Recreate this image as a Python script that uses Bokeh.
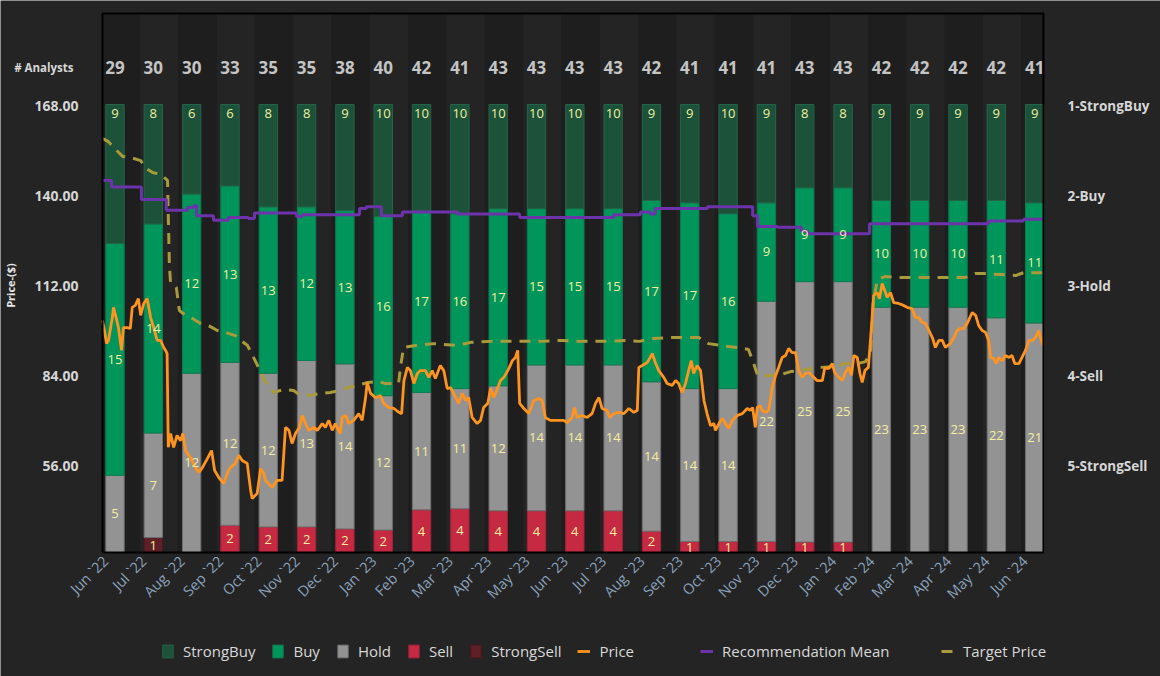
import math
from bokeh.plotting import figure
from bokeh.models import (Range1d, LinearAxis, FixedTicker, Legend, LegendItem,
                          NumeralTickFormatter)
from bokeh.core.properties import value
from bokeh.embed import file_html
from bokeh.resources import INLINE

# ---------------- data ----------------
months = ["Jun `22", "Jul `22", "Aug `22", "Sep `22", "Oct `22", "Nov `22", "Dec `22",
          "Jan `23", "Feb `23", "Mar `23", "Apr `23", "May `23", "Jun `23", "Jul `23",
          "Aug `23", "Sep `23", "Oct `23", "Nov `23", "Dec `23", "Jan `24", "Feb `24",
          "Mar `24", "Apr `24", "May `24", "Jun `24"]
analysts = [29, 30, 30, 33, 35, 35, 38, 40, 42, 41, 43, 43, 43, 43, 42, 41, 41, 41, 43, 43, 42, 42, 42, 42, 41]
strong_buy = [9, 8, 6, 6, 8, 8, 9, 10, 10, 10, 10, 10, 10, 10, 9, 9, 10, 9, 8, 8, 9, 9, 9, 9, 9]
buy = [15, 14, 12, 13, 13, 12, 13, 16, 17, 16, 17, 15, 15, 15, 17, 17, 16, 9, 9, 9, 10, 10, 10, 11, 11]
hold = [5, 7, 12, 12, 12, 13, 14, 12, 11, 11, 12, 14, 14, 14, 14, 14, 14, 22, 25, 25, 23, 23, 23, 22, 21]
sell = [0, 0, 0, 2, 2, 2, 2, 2, 4, 4, 4, 4, 4, 4, 2, 1, 1, 1, 1, 1, 0, 0, 0, 0, 0]
strong_sell = [0, 1, 0, 0, 0, 0, 0, 0, 0, 0, 0, 0, 0, 0, 0, 0, 0, 0, 0, 0, 0, 0, 0, 0, 0]

# time in months since Jun 2022 (bar positions are month starts)
price_month = [-0.33, -0.29, -0.22, -0.17, -0.07, -0.04, 0.03, 0.09, 0.17, 0.22,
               0.32, 0.40, 0.45, 0.53, 0.61, 0.67, 0.75, 0.84, 0.93, 1.01,
               1.10, 1.19, 1.27, 1.32, 1.36, 1.39, 1.45, 1.53, 1.62, 1.71,
               1.77, 1.84, 1.97, 2.10, 2.19, 2.28, 2.41, 2.52, 2.60, 2.71,
               2.84, 2.93, 3.01, 3.14, 3.23, 3.32, 3.45, 3.54, 3.58, 3.71,
               3.80, 3.88, 3.93, 4.01, 4.10, 4.23, 4.36, 4.45, 4.54, 4.62,
               4.71, 4.81, 4.89, 4.97, 5.06, 5.19, 5.28, 5.41, 5.49, 5.58,
               5.67, 5.75, 5.88, 5.93, 6.02, 6.10, 6.23, 6.36, 6.45, 6.54,
               6.58, 6.67, 6.80, 6.93, 7.01, 7.15, 7.28, 7.41, 7.48, 7.54,
               7.63, 7.71, 7.80, 7.89, 7.97, 8.10, 8.19, 8.28, 8.36, 8.49,
               8.58, 8.67, 8.76, 8.89, 8.97, 9.06, 9.15, 9.23, 9.32, 9.45,
               9.54, 9.62, 9.73, 9.80, 9.89, 9.99, 10.06, 10.15, 10.28, 10.37,
               10.45, 10.51, 10.56, 10.67, 10.80, 10.93, 11.06, 11.15, 11.23, 11.36,
               11.54, 11.71, 11.80, 11.93, 11.99, 12.06, 12.19, 12.32, 12.45, 12.54,
               12.63, 12.71, 12.84, 12.91, 13.02, 13.15, 13.28, 13.41, 13.54, 13.63,
               13.67, 13.76, 13.89, 14.02, 14.11, 14.19, 14.32, 14.41, 14.54, 14.63,
               14.71, 14.80, 14.89, 14.97, 15.04, 15.10, 15.19, 15.28, 15.37, 15.45,
               15.54, 15.63, 15.67, 15.76, 15.85, 15.93, 16.02, 16.11, 16.24, 16.37,
               16.50, 16.58, 16.64, 16.71, 16.76, 16.84, 16.89, 16.98, 17.06, 17.15,
               17.24, 17.32, 17.41, 17.50, 17.58, 17.67, 17.76, 17.84, 17.93, 18.02,
               18.11, 18.19, 18.32, 18.46, 18.52, 18.63, 18.72, 18.78, 18.89, 18.98,
               19.06, 19.15, 19.22, 19.28, 19.37, 19.44, 19.50, 19.57, 19.66, 19.72,
               19.80, 19.89, 19.95, 20.02, 20.09, 20.15, 20.24, 20.32, 20.45, 20.58,
               20.67, 20.80, 20.89, 20.98, 21.06, 21.15, 21.24, 21.33, 21.41, 21.50,
               21.59, 21.67, 21.80, 21.89, 21.98, 22.06, 22.15, 22.24, 22.37, 22.46,
               22.54, 22.63, 22.72, 22.80, 22.85, 22.93, 23.00, 23.06, 23.15, 23.24,
               23.32, 23.41, 23.48, 23.59, 23.67, 23.76, 23.85, 23.94, 24.02, 24.11,
               24.15, 24.22]
price = [101.2, 99.0, 94.0, 95.0, 102.1, 105.3, 102.1, 99.0, 91.9, 99.0,
         99.0, 98.7, 105.3, 105.9, 108.0, 102.8, 106.5, 108.0, 102.1, 99.0,
         95.0, 95.0, 92.8, 91.9, 90.9, 61.7, 66.0, 61.7, 65.4, 63.8,
         66.0, 60.7, 58.5, 55.4, 53.9, 55.4, 58.2, 60.7, 54.5, 52.3,
         50.4, 53.6, 55.4, 56.7, 59.2, 57.6, 56.7, 48.3, 45.8, 47.3,
         55.1, 53.6, 51.4, 50.4, 49.2, 51.4, 51.4, 67.9, 67.0, 62.9,
         66.0, 67.9, 71.6, 69.1, 67.0, 67.9, 67.0, 69.1, 67.9, 70.1,
         67.0, 69.1, 66.0, 71.0, 71.6, 69.1, 70.1, 72.2, 70.1, 77.2,
         81.9, 78.5, 77.2, 77.8, 75.4, 74.1, 73.8, 72.6, 72.2, 82.5,
         86.6, 85.6, 81.6, 84.7, 85.6, 85.6, 83.5, 85.6, 83.1, 87.2,
         85.6, 80.0, 80.3, 77.2, 75.4, 78.5, 76.3, 77.2, 71.0, 69.1,
         70.1, 74.1, 75.4, 80.0, 77.2, 80.3, 82.5, 83.5, 86.3, 88.7,
         89.7, 91.9, 75.4, 73.8, 72.2, 76.3, 76.9, 76.3, 71.0, 70.1,
         70.1, 70.1, 69.4, 71.0, 74.1, 71.0, 71.6, 71.0, 72.2, 75.4,
         77.2, 73.8, 73.2, 71.0, 72.2, 72.6, 72.2, 73.8, 72.6, 73.2,
         86.6, 87.2, 88.1, 90.9, 87.8, 85.6, 83.5, 81.6, 81.0, 82.5,
         81.6, 78.8, 81.6, 85.6, 88.7, 84.7, 87.2, 85.6, 76.3, 72.2,
         68.5, 69.1, 67.0, 69.1, 70.7, 69.1, 67.6, 70.1, 71.6, 72.2,
         73.8, 73.2, 74.1, 67.9, 74.1, 74.7, 73.2, 72.6, 73.2, 80.3,
         84.1, 86.6, 89.7, 90.3, 92.5, 91.2, 91.2, 85.6, 83.5, 84.7,
         85.0, 84.1, 82.5, 82.5, 86.3, 86.3, 87.8, 85.0, 83.5, 82.5,
         85.0, 86.6, 84.1, 90.3, 89.7, 84.7, 81.9, 85.6, 86.6, 95.9,
         109.0, 109.9, 108.0, 112.7, 110.5, 108.4, 109.9, 106.8, 106.5, 105.9,
         105.3, 104.9, 102.1, 102.1, 100.6, 100.3, 98.1, 95.9, 92.8, 95.0,
         95.0, 92.8, 94.0, 95.9, 98.1, 98.7, 98.7, 100.3, 103.7, 102.8,
         99.6, 98.1, 97.5, 95.0, 89.7, 89.4, 87.8, 89.7, 88.7, 90.3,
         89.7, 90.3, 87.8, 87.8, 89.7, 91.9, 95.0, 95.0, 95.9, 98.1,
         95.9, 93.4]

target_month = [-0.33, -0.17, -0.01, 0.20, 0.40, 0.67, 0.82, 0.98, 1.19, 1.37,
                1.42, 1.45, 1.60, 1.68, 1.84, 2.02, 2.23, 2.49, 2.67, 2.96,
                3.14, 3.28, 3.46, 3.59, 3.72, 3.85, 3.98, 4.14, 4.40, 4.66,
                4.84, 5.10, 5.36, 5.62, 5.88, 6.07, 6.35, 6.59, 6.85, 7.06,
                7.40, 7.45, 7.53, 7.84, 8.31, 8.94, 9.28, 9.80, 10.53, 11.10,
                11.63, 12.15, 12.83, 13.32, 13.69, 14.03, 14.50, 15.23, 15.49, 15.83,
                16.22, 16.53, 16.66, 16.77, 17.11, 17.32, 17.63, 17.84, 18.15, 18.41,
                18.80, 19.07, 19.38, 19.59, 19.72, 19.79, 19.90, 20.11, 20.50, 21.15,
                21.80, 22.19, 22.45, 22.71, 23.11, 23.50, 23.71, 24.22]
target = [157.9, 156.9, 154.8, 152.3, 152.0, 151.0, 148.5, 147.3, 146.7, 144.8,
          118.3, 113.0, 111.5, 104.3, 102.8, 101.8, 100.3, 99.3, 98.1, 97.2,
          96.5, 95.0, 93.4, 90.3, 87.2, 83.8, 81.0, 78.8, 79.7, 79.4,
          77.9, 77.9, 78.5, 78.8, 79.4, 80.3, 81.0, 81.9, 82.2, 81.6,
          81.6, 86.6, 92.8, 93.4, 94.0, 93.4, 94.4, 94.7, 94.7, 94.7,
          95.0, 94.7, 94.7, 95.0, 94.7, 95.6, 95.9, 95.9, 94.0, 93.4,
          92.8, 92.2, 88.1, 84.1, 84.1, 84.1, 85.3, 85.6, 86.2, 86.6,
          86.9, 87.8, 87.8, 88.4, 91.9, 107.4, 114.0, 114.9, 114.6, 114.6,
          114.6, 114.6, 115.8, 115.8, 115.5, 115.2, 116.1, 116.1]

rec_month = [-0.32, -0.09, 0.69, 1.34, 1.89, 2.05, 2.13, 2.57, 2.96, 3.48,
             3.64, 4.74, 4.89, 6.38, 6.56, 6.95, 7.50, 8.94, 10.56, 13.01,
             13.71, 13.97, 14.10, 15.46, 16.64, 16.77, 17.29, 17.91, 18.07, 19.69,
             22.80, 23.71, 24.22]
rec_mean = [1.83, 1.90, 2.04, 2.16, 2.13, 2.11, 2.22, 2.27, 2.24, 2.25,
            2.19, 2.23, 2.21, 2.14, 2.12, 2.22, 2.18, 2.20, 2.24, 2.21,
            2.18, 2.20, 2.14, 2.12, 2.22, 2.34, 2.35, 2.39, 2.42, 2.31,
            2.28, 2.26, 2.26]

rec_ticks = [1, 2, 3, 4, 5]
rec_labels = ["1-StrongBuy", "2-Buy", "3-Hold", "4-Sell", "5-StrongSell"]
price_ticks = [56, 84, 112, 140, 168]

# ---------------- layout (data-space extents of the plot area) ----------------
X_LO, X_HI = -0.326, 24.23          # plot area left / right (months)
PRICE_LO = 28.96                    # price at plot-area bottom
BAR_TOP = 1.2031                    # plot-area top on the normalised bar scale
LABEL_SHIFT = 0.25                  # month labels sit a little left of the bars

FONT = "Open Sans"
BG_OUT = "#242424"
PLOT_BG = "#1f1f1f"
BAND_A = "#1e1e1e"
BAND_B = "#242424"
C_SB, C_B, C_H, C_S, C_SS = "#1b5239", "#00955a", "#939393", "#c52a42", "#5e1f27"
L_SB, L_B, L_H, L_S, L_SS = "#24654a", "#0c7d52", "#6e6e6e", "#a3223a", "#4a171e"
LBL = "#f3eea0"

p = figure(width=1160, height=676,
           x_range=Range1d(-2.988, 27.284), y_range=Range1d(-9.66, 200.85),
           output_backend="svg", toolbar_location=None,
           x_axis_location=None, y_axis_location=None,
           min_border=0, background_fill_color=BG_OUT, border_fill_color=BG_OUT,
           outline_line_color=None)
p.extra_y_ranges = {"bars": Range1d(-0.2768, 1.2321), "rec": Range1d(7.345, -0.1732)}
p.grid.visible = False

n = len(months)
xs = list(range(n))

# plot area
p.quad(left=[X_LO], right=[X_HI], bottom=[0], top=[BAR_TOP], y_range_name="bars",
       fill_color=PLOT_BG, line_color=None)
# alternating month bands
p.quad(left=[max(i - 0.347, X_LO) for i in xs], right=[min(i + 0.653, X_HI) for i in xs],
       bottom=0, top=BAR_TOP, y_range_name="bars",
       fill_color=[BAND_A if i % 2 == 0 else BAND_B for i in xs], line_color=None)

# stacked (normalised) bars
series = [("StrongSell", strong_sell, C_SS, L_SS), ("Sell", sell, C_S, L_S),
          ("Hold", hold, C_H, L_H), ("Buy", buy, C_B, L_B), ("StrongBuy", strong_buy, C_SB, L_SB)]
cum = [0.0] * n
bar_renderers = {}
lab_x, lab_y, lab_t = [], [], []
for name, vals, fc, lc in series:
    bx, bb, bt = [], [], []
    for i in xs:
        frac = vals[i] / analysts[i]
        if vals[i] > 0:
            bx.append(i)
            bb.append(cum[i])
            bt.append(cum[i] + frac)
            lab_x.append(i)
            lab_y.append(0.98 if name == "StrongBuy" else cum[i] + frac / 2)
            lab_t.append(str(vals[i]))
        cum[i] += frac
    r = p.vbar(x=bx, bottom=bb, top=bt, width=0.48, y_range_name="bars",
               fill_color=fc, line_color=lc, line_width=1)
    bar_renderers[name] = r

# lines
r_target = p.line(target_month, target, line_color="#a99a3b", line_width=3, line_dash="11 8")
r_rec = p.step(rec_month, rec_mean, mode="after", y_range_name="rec",
               line_color="#6c33ab", line_width=3)
r_price = p.line(price_month, price, line_color="#ff9421", line_width=2.8)

# plot-area border
p.quad(left=[X_LO], right=[X_HI], bottom=[0], top=[BAR_TOP], y_range_name="bars",
       fill_color=None, line_color="#000000", line_width=2)

# bar value labels
p.text(x=lab_x, y=lab_y, text=lab_t, y_range_name="bars", text_align="center",
       text_baseline="middle", text_color=LBL, text_font_size="13px", text_font=value(FONT))

# analyst counts
p.text(x=xs, y=[1.0826] * n, text=[str(a) for a in analysts], y_range_name="bars",
       text_align="center", text_baseline="middle", text_color="#c4c4c4",
       text_font_size="17px", text_font_style="bold", text_font=value(FONT))
p.text(x=[-1.083], y=[1.0826], text=["# Analysts"], y_range_name="bars",
       text_align="right", text_baseline="middle", text_color="#d6d6d6",
       text_font_size="11.5px", text_font_style="bold", text_font=value(FONT))
p.text(x=[-2.73], y=[112.1], text=["Price-($)"], angle=math.pi / 2,
       text_align="center", text_baseline="middle", text_color="#e6e6e6",
       text_font_size="11px", text_font_style="bold", text_font=value(FONT))

# axes (fixed at the plot-area edges)
tick_pos = [i - LABEL_SHIFT for i in xs]
xa = LinearAxis(fixed_location=PRICE_LO, ticker=FixedTicker(ticks=tick_pos))
xa.major_label_overrides = {t: months[i] for i, t in enumerate(tick_pos)}
xa.major_label_orientation = math.pi / 4
xa.major_label_text_color = "#8aa1ba"
xa.major_label_text_font = FONT
xa.major_label_text_font_size = "14.5px"
xa.major_label_standoff = 6
xa.major_tick_out = 0
xa.major_tick_in = 0
xa.minor_tick_out = 0
xa.minor_tick_in = 0
xa.axis_line_color = None
xa.major_tick_line_color = None
xa.minor_tick_line_color = None
p.add_layout(xa, "below")

ya = LinearAxis(fixed_location=X_LO, ticker=FixedTicker(ticks=price_ticks),
                formatter=NumeralTickFormatter(format="0.00"))
ya.major_label_text_color = "#d6d6d6"
ya.major_label_text_font = FONT
ya.major_label_text_font_size = "14px"
ya.major_label_text_font_style = "bold"
ya.major_label_standoff = 24
ya.major_tick_out = 0
ya.major_tick_in = 0
ya.minor_tick_out = 0
ya.minor_tick_in = 0
ya.axis_line_color = None
ya.major_tick_line_color = None
ya.minor_tick_line_color = None
p.add_layout(ya, "left")

ra = LinearAxis(y_range_name="rec", fixed_location=X_HI, ticker=FixedTicker(ticks=rec_ticks))
ra.major_label_overrides = {t: l for t, l in zip(rec_ticks, rec_labels)}
ra.major_label_text_color = "#d6d6d6"
ra.major_label_text_font = FONT
ra.major_label_text_font_size = "13.5px"
ra.major_label_text_font_style = "bold"
ra.major_label_standoff = 24
ra.major_tick_out = 0
ra.major_tick_in = 0
ra.minor_tick_out = 0
ra.minor_tick_in = 0
ra.axis_line_color = None
ra.major_tick_line_color = None
ra.minor_tick_line_color = None
p.add_layout(ra, "right")

# legends (three groups, as spaced in the original)
leg_kw = dict(orientation="horizontal", background_fill_alpha=0, border_line_color=None,
              label_text_color="#d8d8d8", label_text_font=FONT, label_text_font_size="15px",
              glyph_width=13, glyph_height=16, label_standoff=9, spacing=16,
              padding=0, margin=0)
leg1 = Legend(items=[
    LegendItem(label="StrongBuy", renderers=[bar_renderers["StrongBuy"]]),
    LegendItem(label="Buy", renderers=[bar_renderers["Buy"]]),
    LegendItem(label="Hold", renderers=[bar_renderers["Hold"]]),
    LegendItem(label="Sell", renderers=[bar_renderers["Sell"]]),
    LegendItem(label="StrongSell", renderers=[bar_renderers["StrongSell"]]),
    LegendItem(label="Price", renderers=[r_price]),
], location=(161, 15), **leg_kw)
leg2 = Legend(items=[LegendItem(label="Recommendation Mean", renderers=[r_rec])],
              location=(700, 15), **leg_kw)
leg3 = Legend(items=[LegendItem(label="Target Price", renderers=[r_target])],
              location=(941, 15), **leg_kw)
for lg in (leg1, leg2, leg3):
    p.add_layout(lg, "center")

html = file_html(p, INLINE)
html = html.replace("<body", '<body style="background-color:%s;overflow:hidden;"' % BG_OUT, 1)
open("out.html", "w").write(html)
